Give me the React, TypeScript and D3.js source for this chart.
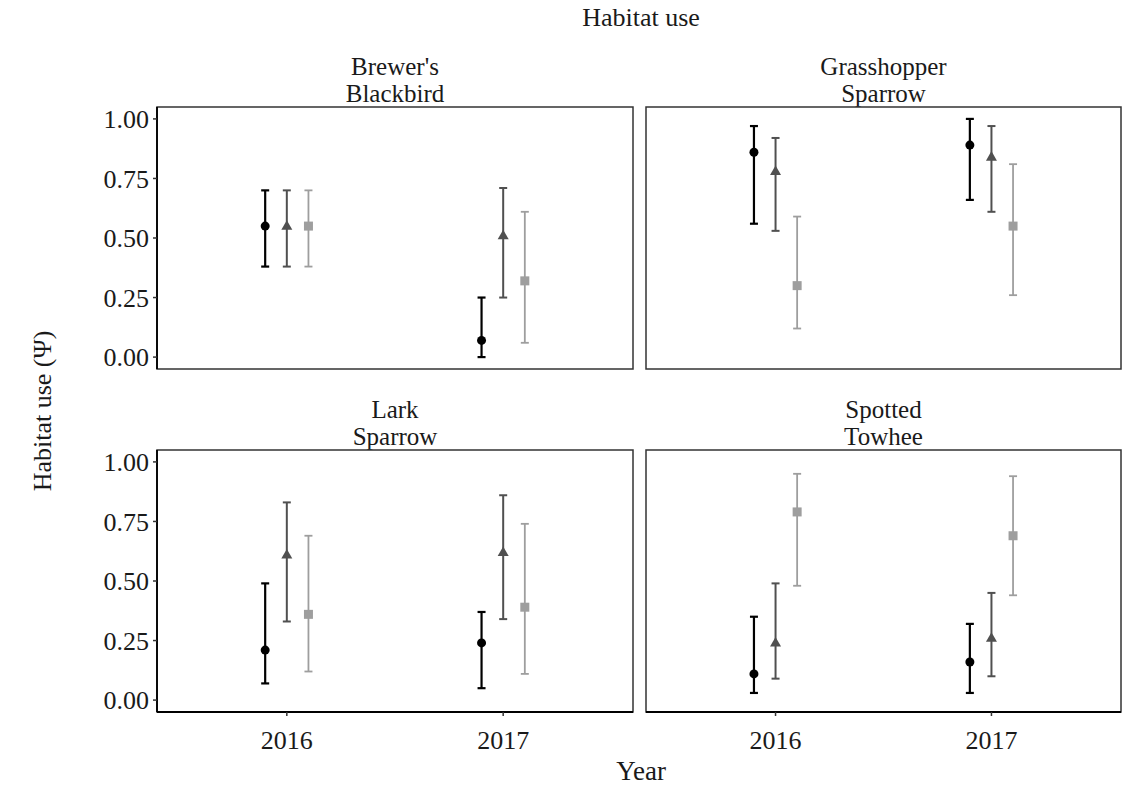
import React from "react";
import * as d3 from "d3";

const species = ["Brewer's\nBlackbird", "Grasshopper\nSparrow", "Lark\nSparrow", "Spotted\nTowhee"];
const years = ["2016", "2017"];
const seriesNames = ["Model 1", "Model 2", "Model 3"];
const yTicks = [0, 0.25, 0.5, 0.75, 1];

// values ordered: [species][year]
const est1 = [[0.55, 0.07], [0.86, 0.89], [0.21, 0.24], [0.11, 0.16]];
const lo1 = [[0.38, 0.0], [0.56, 0.66], [0.07, 0.05], [0.03, 0.03]];
const hi1 = [[0.70, 0.25], [0.97, 1.0], [0.49, 0.37], [0.35, 0.32]];

const est2 = [[0.55, 0.51], [0.78, 0.84], [0.61, 0.62], [0.24, 0.26]];
const lo2 = [[0.38, 0.25], [0.53, 0.61], [0.33, 0.34], [0.09, 0.10]];
const hi2 = [[0.70, 0.71], [0.92, 0.97], [0.83, 0.86], [0.49, 0.45]];

const est3 = [[0.55, 0.32], [0.30, 0.55], [0.36, 0.39], [0.79, 0.69]];
const lo3 = [[0.38, 0.06], [0.12, 0.26], [0.12, 0.11], [0.48, 0.44]];
const hi3 = [[0.70, 0.61], [0.59, 0.81], [0.69, 0.74], [0.95, 0.94]];

const ests = [est1, est2, est3];
const los = [lo1, lo2, lo3];
const his = [hi1, hi2, hi3];

const colors = ["#000000", "#505050", "#9e9e9e"];
const widths = [2.2, 2, 1.8];
const dodge = [-0.1, 0, 0.1];

const FONT = "'Liberation Serif', 'Times New Roman', serif";

const panels = [
  { x0: 157, x1: 633, y0: 107, y1: 369 },
  { x0: 646, x1: 1121, y0: 107, y1: 369 },
  { x0: 157, x1: 633, y0: 450, y1: 712 },
  { x0: 646, x1: 1121, y0: 450, y1: 712 },
];

function SText({
  x, y, size, anchor = "middle", rotate = 0, children,
}: { x: number; y: number; size: number; anchor?: string; rotate?: number; children: React.ReactNode }) {
  return (
    <g transform={`translate(${x},${y}) rotate(${rotate})`}>
      <text x={0} y={0} dy="0.35em" textAnchor={anchor} fontSize={size} fontFamily={FONT} fill="#1a1a1a">
        {children}
      </text>
    </g>
  );
}

function Marker({ kind, x, y, color }: { kind: number; x: number; y: number; color: string }) {
  if (kind === 0) return <circle cx={x} cy={y} r={4.5} fill={color} />;
  if (kind === 1) {
    const s = 11;
    const h = s * 0.866;
    const pts = `${x},${y - h * 0.62} ${x - s / 2},${y + h * 0.38} ${x + s / 2},${y + h * 0.38}`;
    return <polygon points={pts} fill={color} />;
  }
  return <rect x={x - 4.5} y={y - 4.5} width={9} height={9} fill={color} />;
}

function Panel({ idx }: { idx: number }) {
  const p = panels[idx];
  const xs = d3.scaleLinear().domain([0.4, 2.6]).range([p.x0, p.x1]);
  const ys = d3.scaleLinear().domain([-0.05, 1.05]).range([p.y1, p.y0]);
  const isLeft = idx % 2 === 0;
  const isBottom = idx >= 2;
  const cx = (p.x0 + p.x1) / 2;
  const lines = species[idx].split("\n");
  return (
    <g>
      {lines.map((t, i) => (
        <SText key={i} x={cx} y={p.y0 - 41 + i * 27} size={25}>
          {t}
        </SText>
      ))}
      <rect x={p.x0} y={p.y0} width={p.x1 - p.x0} height={p.y1 - p.y0} fill="white" stroke="#333" strokeWidth={1.5} />
      {isLeft && <line x1={p.x0} x2={p.x0} y1={p.y0} y2={p.y1} stroke="#000" strokeWidth={1.8} />}
      {isBottom && <line x1={p.x0} x2={p.x1} y1={p.y1} y2={p.y1} stroke="#000" strokeWidth={2} />}
      {isLeft &&
        yTicks.map((t) => (
          <g key={t}>
            <line x1={p.x0 - 4} x2={p.x0} y1={ys(t)} y2={ys(t)} stroke="#333" strokeWidth={1.5} />
            <SText x={p.x0 - 8} y={ys(t)} size={26} anchor="end">
              {d3.format(".2f")(t)}
            </SText>
          </g>
        ))}
      {isBottom &&
        years.map((yr, j) => (
          <g key={yr}>
            <line x1={xs(j + 1)} x2={xs(j + 1)} y1={p.y1} y2={p.y1 + 4} stroke="#333" strokeWidth={1.5} />
            <SText x={xs(j + 1)} y={p.y1 + 28} size={26}>
              {yr}
            </SText>
          </g>
        ))}
      {seriesNames.map((sn, k) =>
        years.map((yr, j) => {
          const x = xs(j + 1 + dodge[k]);
          const e = ests[k][idx][j];
          const lo = los[k][idx][j];
          const hi = his[k][idx][j];
          return (
            <g key={sn + yr}>
              <line x1={x} x2={x} y1={ys(lo)} y2={ys(hi)} stroke={colors[k]} strokeWidth={widths[k]} />
              <line x1={x - 4} x2={x + 4} y1={ys(lo)} y2={ys(lo)} stroke={colors[k]} strokeWidth={widths[k]} />
              <line x1={x - 4} x2={x + 4} y1={ys(hi)} y2={ys(hi)} stroke={colors[k]} strokeWidth={widths[k]} />
              <Marker kind={k} x={x} y={ys(e)} color={colors[k]} />
            </g>
          );
        })
      )}
    </g>
  );
}

export default function App() {
  return (
    <svg width={1127} height={786} style={{ position: "absolute", left: 0, top: 0, background: "white" }}>
      <rect width={1127} height={786} fill="white" />
      <SText x={641} y={17} size={26}>
        Habitat use
      </SText>
      {panels.map((_, i) => (
        <Panel key={i} idx={i} />
      ))}
      <SText x={641} y={771} size={27}>
        Year
      </SText>
      <SText x={42} y={411} size={26} rotate={-90}>
        Habitat use (Ψ)
      </SText>
    </svg>
  );
}
